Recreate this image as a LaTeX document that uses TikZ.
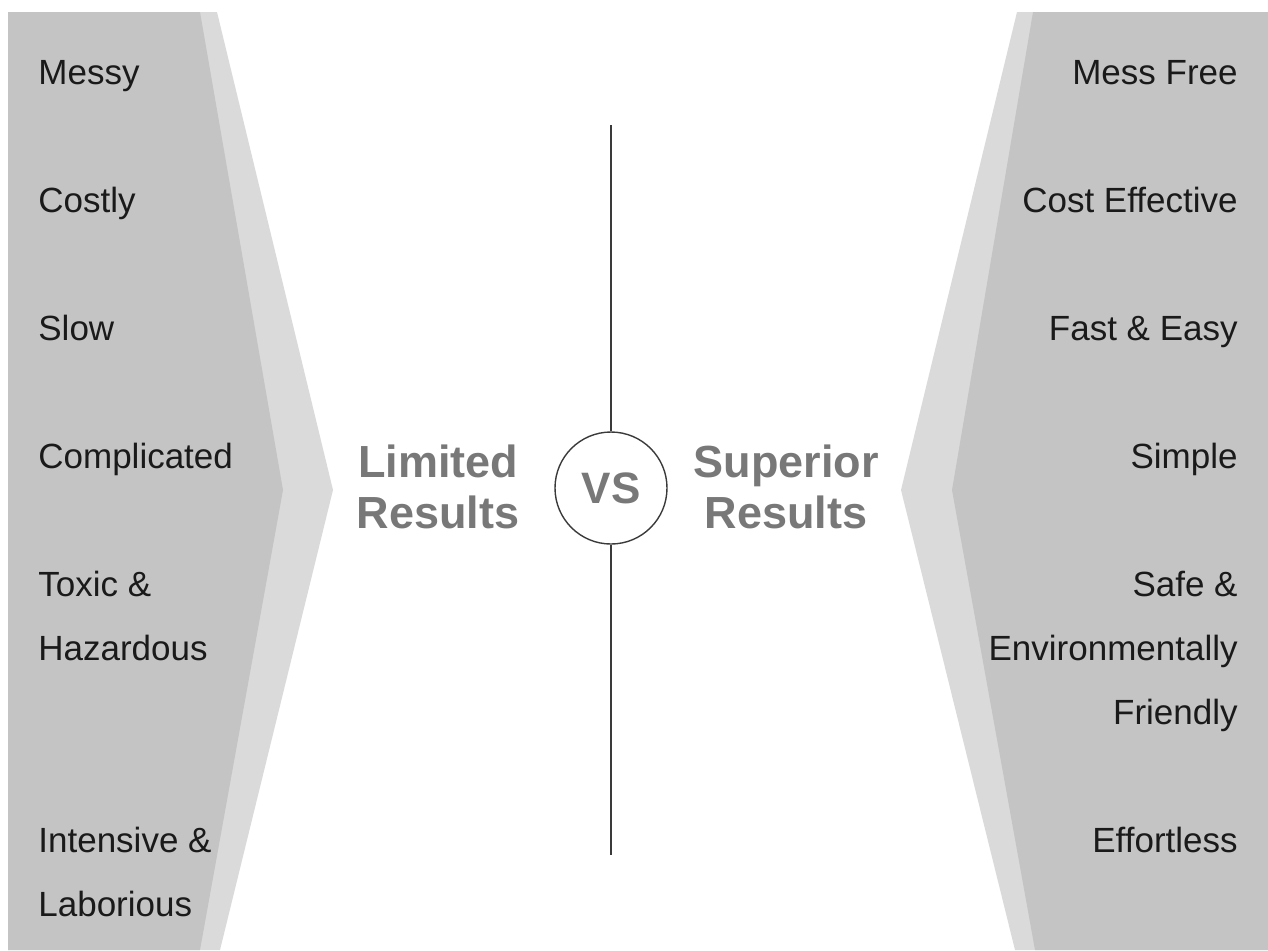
\documentclass[tikz,border=0pt]{standalone}
\usepackage{fontspec}
\setmainfont{Liberation Sans}

\definecolor{paneldark}{HTML}{C4C4C4}
\definecolor{panellight}{HTML}{DADADA}
\definecolor{titlegray}{HTML}{787878}
\definecolor{itemink}{HTML}{1A1A1A}
\definecolor{lineink}{HTML}{3A3A3A}

\tikzset{
	item/.style={font=\fontsize{17.5}{21}\selectfont, text=itemink, inner sep=0pt},
	title/.style={font=\bfseries\fontsize{22.5}{25.5}\selectfont, text=titlegray, align=center, inner sep=0pt},
}

\begin{document}
\begin{tikzpicture}[x=0.5pt,y=-0.5pt]
\useasboundingbox (0,0) rectangle (1268,950);

% Left panel
\fill[panellight] (8,12) -- (217,12) -- (333,490) -- (220,950) -- (8,950) -- cycle;
\fill[paneldark] (8,12) -- (200,12) -- (283,490) -- (200,950) -- (8,950) -- cycle;

% Right panel
\fill[panellight] (1268,12) -- (1017,12) -- (901,490) -- (1015,950) -- (1268,950) -- cycle;
\fill[paneldark] (1268,12) -- (1033,12) -- (952,490) -- (1035,950) -- (1268,950) -- cycle;

% Left items
\foreach \txt/\yy [count=\i] in {Messy/84, Costly/212, Slow/340, Complicated/468,
	Toxic \&/596, Hazardous/660, Intensive \&/852, Laborious/916}
	\node [item, anchor=base west] (bad\i) at (38,\yy) {\txt};

% Right items
\foreach \txt/\yy [count=\i] in {Mess Free/84, Cost Effective/212, Fast \& Easy/340, Simple/468,
	Safe \&/596, Environmentally/660, Friendly/724, Effortless/852}
	\node [item, anchor=base east] (good\i) at (1238,\yy) {\txt};

% VS circle
\node [draw=lineink,
	line width=0.7pt,
	circle,
	minimum size=56pt,
	inner sep=0pt,
	font=\bfseries\fontsize{22}{25}\selectfont,
	text=titlegray] (vs) at (611,488) {VS};

% Divider
\coordinate (divtop) at (611,125);
\coordinate (divbot) at (611,855);
\draw [lineink, line width=0.6pt] (divtop) -- (vs);
\draw [lineink, line width=0.6pt] (vs) -- (divbot);

% Titles
\node [title] (limited) at (438,487) {Limited\\Results};
\node [title] (superior) at (786,487) {Superior\\Results};

\end{tikzpicture}
\end{document}
